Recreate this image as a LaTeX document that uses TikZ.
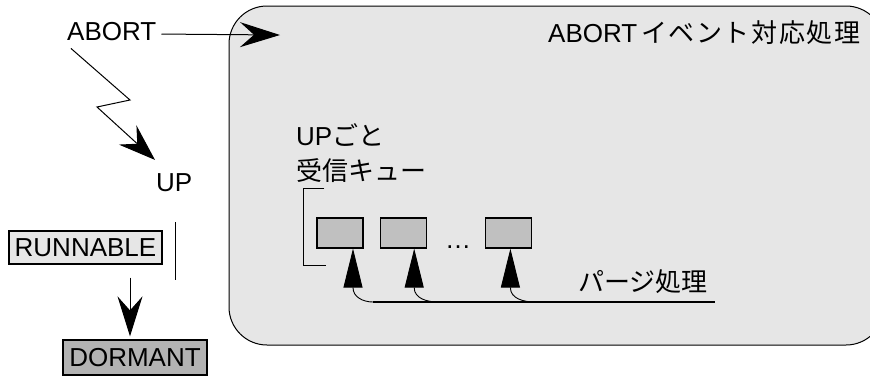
\documentclass[tikz,border=0pt]{standalone}
\usepackage{fontspec}
\setmainfont{Liberation Sans}
\newfontfamily\jp{Noto Sans CJK JP}
\newfontfamily\jpwide{Noto Sans CJK JP}[LetterSpace=6]
\usetikzlibrary{calc, positioning, arrows.meta}

\definecolor{panelgray}{HTML}{E6E6E6}
\definecolor{queuegray}{HTML}{C0C0C0}
\definecolor{dormgray}{HTML}{B3B3B3}

\begin{document}
\begin{tikzpicture}[
        x=1pt, y=-1pt,
        font=\fontsize{26}{31}\selectfont,
        panel/.style={
            rectangle, draw=black, line width=1pt, fill=panelgray,
            rounded corners=38pt, inner sep=0pt
        },
        label/.style={inner sep=0pt, anchor=base west},
        state/.style={
            rectangle, draw=black, line width=1.3pt, inner sep=0pt,
            minimum width=#1, minimum height=33pt
        },
        qbox/.style={
            rectangle, draw=black, line width=1.2pt, fill=queuegray,
            minimum width=46pt, minimum height=30pt, inner sep=0pt
        },
        flow/.style={draw, line width=1pt, -{Stealth[length=40pt, width=25pt, inset=14pt]}},
        bolt/.style={draw, line width=1pt, -{Stealth[length=37pt, width=26pt, inset=13pt]}},
        qarrow/.style={draw, line width=0.9pt, -{Triangle[length=39pt, width=19pt]}},
        bracket/.style={draw, line width=1pt}
    ]

    \useasboundingbox (0,0) rectangle (870,376);

    % event handler panel
    \node [panel, minimum width=655pt, minimum height=339pt] (panel) at (556.5,175.5) {};
    \node [label] (title) at (548,42) {ABORT\hspace{4pt}\jpwide イベント対応処理};

    % left side: event and task states
    \node [label] (abort) at (67,40) {ABORT};
    \node [label] (up) at (156,191) {UP};
    \node [state=153pt, fill=panelgray] (runnable) at (85.5,247.5) {RUNNABLE};
    \node [state=144pt, fill=dormgray, minimum height=35pt] (dormant) at (135,357.5) {DORMANT};

    % per-UP receive queues
    \node [label] (perup) at (296,145) {UP{\jp ごと}};
    \node [label] (rxqueue) at (296,180) {\jp 受信キュー};

    \node [qbox] (q1) at (340,233) {};
    \node [qbox, right=16pt of q1] (q2) {};
    \node [qbox, right=58pt of q2] (q3) {};
    \node [label, anchor=base] (dots) at (458,248) {…};
    \node [label] (purge) at (578,291) {\jp パージ処理};

    \coordinate (abortin) at (280,35);
    \coordinate (j1) at (373,302);
    \coordinate (j2) at (438,302);
    \coordinate (j3) at (535,302);
    \coordinate (purgeend) at (715,302);

    \draw [flow] ($(abort.east)+(5,3)$) -- (abortin);
    \draw [bolt] ($(abort.south west)+(4,8)$) -- (130,100) -- (97,107) -- ($(up.north west)+(-1,-13)$);
    \draw [flow] ($(runnable.south -| dormant.north)+(-5,13)$) -- ($(dormant.north)+(-5,-3)$);
    \draw [line width=1.2pt] ($(runnable.north east)+(13,-8)$) -- ($(runnable.south east)+(13,15)$);

    \draw [bracket] ($(q1.north west)+(8,-29)$) -- ++(-21,0) -- ++(0,77) -- ++(23,0);

    \draw [line width=1.3pt] (j1) -- (purgeend);
    \draw [qarrow] (j1) to[out=180, in=-90] ($(q1.south)+(13,39)$) -- ($(q1.south)+(13,0)$);
    \draw [qarrow] (j2) to[out=180, in=-90] ($(q2.south)+(11,39)$) -- ($(q2.south)+(11,0)$);
    \draw [qarrow] (j3) to[out=180, in=-90] ($(q3.south)+(2,39)$) -- ($(q3.south)+(2,0)$);

    \end{tikzpicture}
\end{document}
